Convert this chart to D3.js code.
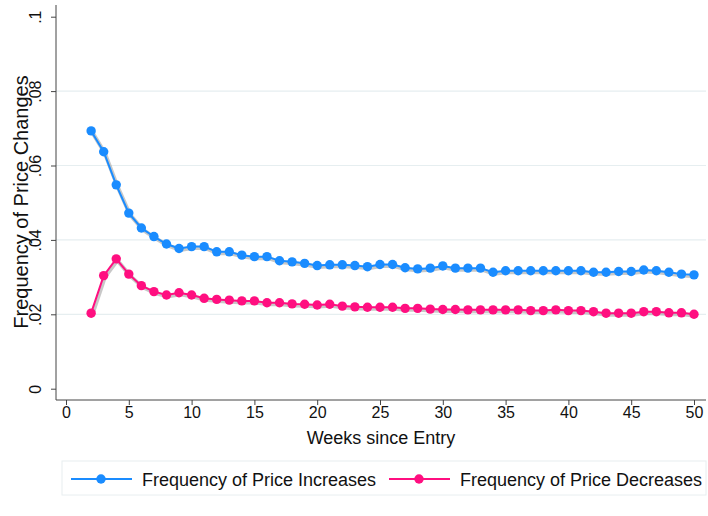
<!DOCTYPE html>
<html>
<head>
<meta charset="utf-8">
<script src="https://cdn.jsdelivr.net/npm/d3@7"></script>
<style>
  html, body { margin: 0; padding: 0; background: #fff; }
  svg { display: block; font-family: "Liberation Sans", Arial, Helvetica, sans-serif; }
</style>
</head>
<body>
<svg id="chart" width="708" height="516"></svg>
<script>
const weeks = d3.range(2, 51);
const increases = [
  0.0693, 0.0637, 0.0548, 0.0472, 0.0432, 0.0409, 0.0389, 0.0377, 0.0382, 0.0382,
  0.0368, 0.0368, 0.0359, 0.0355, 0.0355, 0.0344, 0.0341, 0.0337, 0.0331, 0.0333,
  0.0333, 0.0331, 0.0328, 0.0334, 0.0334, 0.0325, 0.0322, 0.0324, 0.0330, 0.0324,
  0.0324, 0.0324, 0.0313, 0.0317, 0.0317, 0.0317, 0.0317, 0.0317, 0.0317, 0.0317,
  0.0313, 0.0313, 0.0315, 0.0315, 0.0319, 0.0317, 0.0313, 0.0308, 0.0306
];
const decreases = [
  0.0203, 0.0304, 0.0349, 0.0308, 0.0277, 0.0261, 0.0252, 0.0258, 0.0252, 0.0243,
  0.0240, 0.0238, 0.0236, 0.0236, 0.0231, 0.0231, 0.0228, 0.0227, 0.0225, 0.0227,
  0.0222, 0.0220, 0.0219, 0.0219, 0.0219, 0.0216, 0.0216, 0.0214, 0.0213, 0.0213,
  0.0212, 0.0212, 0.0212, 0.0212, 0.0212, 0.0210, 0.0210, 0.0212, 0.0210, 0.0210,
  0.0207, 0.0203, 0.0203, 0.0203, 0.0207, 0.0207, 0.0204, 0.0204, 0.0200
];
const xTicks = [0, 5, 10, 15, 20, 25, 30, 35, 40, 45, 50];
const yTicks = [0, 0.02, 0.04, 0.06, 0.08, 0.1];
const yTickLabels = ["0", ".02", ".04", ".06", ".08", ".1"];
const seriesNames = ["Frequency of Price Increases", "Frequency of Price Decreases"];
const seriesColors = ["#1a8cff", "#ff0f80"];
const xTitle = "Weeks since Entry";
const yTitle = "Frequency of Price Changes";

const svg = d3.select("#chart");
const x = d3.scaleLinear().domain([0, 50]).range([66, 694]);
const y = d3.scaleLinear().domain([0, 0.1]).range([388.7, 16.7]);
const axisColor = "#444";
const textColor = "#111";

// gridlines
svg.append("g").selectAll("line")
  .data(yTicks.filter(t => t > 0 && t < 0.1))
  .join("line")
  .attr("x1", 56).attr("x2", 706)
  .attr("y1", d => y(d)).attr("y2", d => y(d))
  .attr("stroke", "#e6eef0").attr("stroke-width", 1.2);

// y axis
const yAxis = svg.append("g").attr("transform", "translate(56,0)")
  .call(d3.axisLeft(y).tickValues(yTicks).tickFormat((d, i) => yTickLabels[i]).tickSize(5));
yAxis.select(".domain").attr("d", "M0,5V400").attr("stroke", axisColor);
yAxis.selectAll(".tick line").attr("stroke", axisColor);
yAxis.selectAll(".tick text")
  .attr("font-size", 16).attr("fill", textColor)
  .attr("text-anchor", "middle")
  .attr("transform", "translate(-21,0) rotate(-90)")
  .attr("x", 0).attr("y", 0).attr("dy", "0.35em");

// x axis
const xAxis = svg.append("g").attr("transform", "translate(0,400)")
  .call(d3.axisBottom(x).tickValues(xTicks).tickSize(5).tickPadding(5));
xAxis.select(".domain").attr("d", "M56,0H706").attr("stroke", axisColor);
xAxis.selectAll(".tick line").attr("stroke", axisColor);
xAxis.selectAll(".tick text").attr("font-size", 16).attr("fill", textColor)
  .attr("y", 18).attr("dy", 0);

// titles
svg.append("text").attr("x", 381).attr("y", 444)
  .attr("text-anchor", "middle").attr("font-size", 18).attr("fill", textColor).text(xTitle);
svg.append("text").attr("transform", "translate(28,202) rotate(-90)")
  .attr("text-anchor", "middle").attr("font-size", 20).attr("fill", textColor).text(yTitle);

// series
const series = [increases, decreases];
const line = d3.line().x((d, i) => x(weeks[i])).y(d => y(d));
// soft shadow under series
series.forEach((vals) => {
  svg.append("path").datum(vals)
    .attr("d", line).attr("fill", "none")
    .attr("stroke", "#9a9a9a").attr("stroke-opacity", 0.55)
    .attr("stroke-width", 4).attr("transform", "translate(1.2,1.5)");
});
series.forEach((vals, s) => {
  svg.append("path").datum(vals)
    .attr("d", line).attr("fill", "none")
    .attr("stroke", seriesColors[s]).attr("stroke-width", 2);
  svg.append("g").selectAll("circle").data(vals).join("circle")
    .attr("cx", (d, i) => x(weeks[i])).attr("cy", d => y(d))
    .attr("r", 4.7).attr("fill", seriesColors[s]);
});

// legend
const lg = svg.append("g");
lg.append("rect").attr("x", 62).attr("y", 461).attr("width", 644).attr("height", 34)
  .attr("fill", "#fff").attr("stroke", "#e8eef0").attr("stroke-width", 1);
const legendItems = [{x0: 71, tx: 142}, {x0: 389, tx: 460}];
legendItems.forEach((it, s) => {
  lg.append("line").attr("x1", it.x0).attr("x2", it.x0 + 61).attr("y1", 479).attr("y2", 479)
    .attr("stroke", seriesColors[s]).attr("stroke-width", 2);
  lg.append("circle").attr("cx", it.x0 + 30).attr("cy", 479).attr("r", 4.7).attr("fill", seriesColors[s]);
  lg.append("text").attr("x", it.tx).attr("y", 485.5).attr("font-size", 18).attr("fill", textColor).text(seriesNames[s]);
});
</script>
</body>
</html>
